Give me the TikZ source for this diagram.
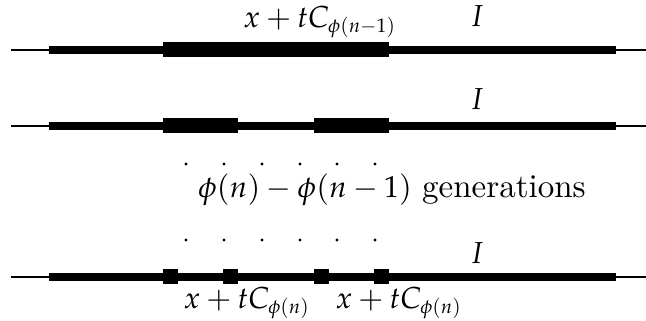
\documentclass[tikz,border=0pt]{standalone}
\usepackage{amsmath}
\usepackage{mathpazo}
\renewcommand{\rmdefault}{lmr}
\DeclareMathSizes{10}{10}{6.5}{5}
\usepackage{tikz}

\begin{document}
\begin{tikzpicture}[x=0.0116cm, y=-0.0116cm]
	\def\ya{50}
	\def\yb{126}
	\def\yc{277}
	\def\th{4.2}
	\def\bh{7.5}
	
	\useasboundingbox (0,0) rectangle (646,321);
	
	% first row: one block
	\draw[line width=0.4pt] (11,\ya) -- (646,\ya);
	\fill (49,\ya-\th) rectangle (616,\ya+\th);
	\fill (163,\ya-\bh) rectangle (389,\ya+\bh);
	
	% second row: two blocks
	\draw[line width=0.4pt] (11,\yb) -- (646,\yb);
	\fill (49,\yb-\th) rectangle (616,\yb+\th);
	\fill (163,\yb-\bh) rectangle (238,\yb+\bh);
	\fill (314,\yb-\bh) rectangle (389,\yb+\bh);
	
	% last row: four small blocks
	\draw[line width=0.4pt] (11,\yc) -- (646,\yc);
	\fill (49,\yc-\th) rectangle (616,\yc+\th);
	\foreach \xl in {163, 223, 314, 374}
		\fill (\xl,\yc-\bh) rectangle (\xl+15,\yc+\bh);
	
	% dots
	\foreach \xd in {186, 224, 262, 300, 337, 375} {
		\fill (\xd,164) circle (0.5pt);
		\fill (\xd,240) circle (0.5pt);
	}
	
	\node (top) at (320,22) {$x+tC_{\phi(n-1)}$};
	\node (ia) at (477,16) {$I$};
	\node (ib) at (477,99) {$I$};
	\node (ic) at (477,253) {$I$};
	\node (gen) at (392,190) {$\phi(n)-\phi(n-1)$ {\fontsize{10.9}{13}\selectfont generations}};
	\node (bl) at (247,303) {$x+tC_{\phi(n)}$};
	\node (br) at (399,303) {$x+tC_{\phi(n)}$};
	
\end{tikzpicture}
\end{document}
